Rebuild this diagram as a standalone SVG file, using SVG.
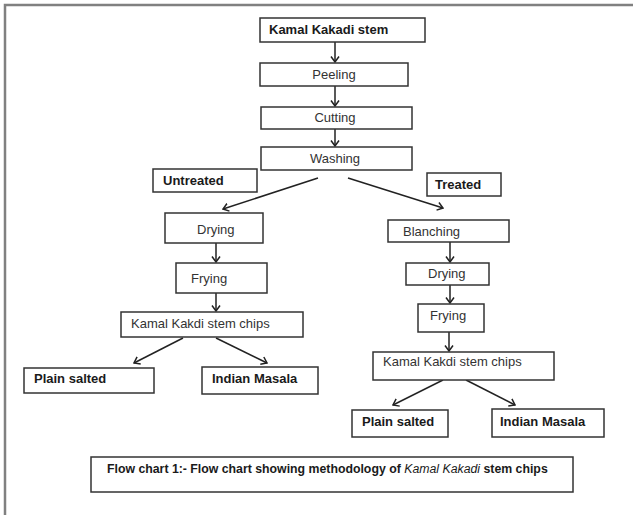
<svg xmlns="http://www.w3.org/2000/svg" width="633" height="515" viewBox="0 0 633 515">
<defs>
<marker id="ah" markerUnits="userSpaceOnUse" viewBox="0 0 7 10" markerWidth="7" markerHeight="10" refX="6" refY="5" orient="auto">
<path d="M0.5,1 L6,5 L0.5,9" fill="none" stroke="#222" stroke-width="1.5"/>
</marker>
</defs>
<style>
.box{fill:#fff;stroke:#333;stroke-width:1.5}
.t{font-family:"Liberation Sans",Arial,sans-serif;font-size:13px;fill:#333}
.b{font-family:"Liberation Sans",Arial,sans-serif;font-size:13px;font-weight:bold;fill:#1a1a1a}
.c{text-anchor:middle}
.ln{stroke:#222;stroke-width:1.5;fill:none;marker-end:url(#ah)}
</style>
<rect x="0" y="0" width="633" height="515" fill="#fff"/>
<path d="M5,520 L5,5 L640,5" fill="none" stroke="#808080" stroke-width="2.5"/>
<g id="connectors">
<line class="ln" x1="335" y1="42" x2="335" y2="62"/>
<line class="ln" x1="335" y1="86" x2="335" y2="106"/>
<line class="ln" x1="335" y1="129" x2="335" y2="146"/>
<line class="ln" x1="318" y1="178" x2="223" y2="209"/>
<line class="ln" x1="348" y1="178" x2="443" y2="208"/>
<line class="ln" x1="216" y1="243" x2="216" y2="262"/>
<line class="ln" x1="216" y1="293" x2="216" y2="311"/>
<line class="ln" x1="183" y1="338" x2="134" y2="363"/>
<line class="ln" x1="216" y1="338" x2="267" y2="363"/>
<line class="ln" x1="450" y1="242" x2="450" y2="262"/>
<line class="ln" x1="450" y1="285" x2="450" y2="303"/>
<line class="ln" x1="449" y1="332" x2="449" y2="351"/>
<line class="ln" x1="443" y1="380" x2="393" y2="405"/>
<line class="ln" x1="466" y1="380" x2="515" y2="405"/>
</g>
<g id="stem"><rect class="box" x="260" y="18" width="165" height="24"/><text class="b" x="269" y="34">Kamal Kakadi stem</text></g>
<g id="peeling"><rect class="box" x="260" y="63" width="148" height="23"/><text class="t c" x="334" y="79">Peeling</text></g>
<g id="cutting"><rect class="box" x="261" y="107" width="151" height="22"/><text class="t c" x="335" y="122">Cutting</text></g>
<g id="washing"><rect class="box" x="261" y="147" width="151" height="23"/><text class="t c" x="335" y="163">Washing</text></g>
<g id="untreated"><rect class="box" x="153" y="169" width="104" height="23"/><text class="b" x="163" y="185">Untreated</text></g>
<g id="treated"><rect class="box" x="427" y="173" width="74" height="23"/><text class="b" x="435" y="189">Treated</text></g>
<g id="drying-left"><rect class="box" x="165" y="213" width="98" height="30"/><text class="t" x="197" y="234">Drying</text></g>
<g id="frying-left"><rect class="box" x="176" y="263" width="91" height="30"/><text class="t" x="191" y="283">Frying</text></g>
<g id="chips-left"><rect class="box" x="121" y="312" width="182" height="25"/><text class="t" x="131" y="328">Kamal Kakdi stem chips</text></g>
<g id="plain-left"><rect class="box" x="24" y="368" width="130" height="25"/><text class="b" x="34" y="383">Plain salted</text></g>
<g id="masala-left"><rect class="box" x="202" y="367" width="116" height="27"/><text class="b" x="212" y="383">Indian Masala</text></g>
<g id="blanching"><rect class="box" x="388" y="220" width="121" height="22"/><text class="t" x="403" y="236">Blanching</text></g>
<g id="drying-right"><rect class="box" x="406" y="263" width="83" height="22"/><text class="t" x="428" y="278">Drying</text></g>
<g id="frying-right"><rect class="box" x="418" y="304" width="66" height="28"/><text class="t" x="430" y="320">Frying</text></g>
<g id="chips-right"><rect class="box" x="373" y="352" width="181" height="28"/><text class="t" x="383" y="366">Kamal Kakdi stem chips</text></g>
<g id="plain-right"><rect class="box" x="352" y="410" width="96" height="27"/><text class="b" x="362" y="426">Plain salted</text></g>
<g id="masala-right"><rect class="box" x="492" y="409" width="112" height="28"/><text class="b" x="500" y="426">Indian Masala</text></g>
<g id="caption"><rect class="box" x="91" y="457" width="482" height="35"/><text class="b" x="107" y="473" style="font-size:12.3px">Flow chart 1:- Flow chart showing methodology of <tspan font-style="italic" font-weight="normal">Kamal Kakadi</tspan> stem chips</text></g>
</svg>
